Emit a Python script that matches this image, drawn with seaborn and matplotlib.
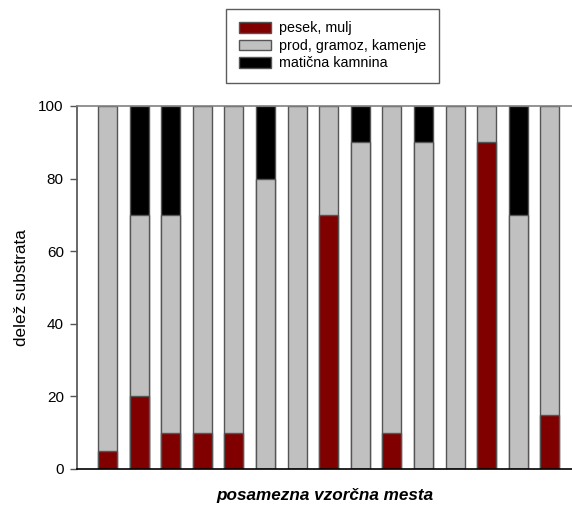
import matplotlib
matplotlib.use("Agg")
import matplotlib.pyplot as plt
import seaborn as sns
import numpy as np
import pandas as pd

sns.set_theme(style="white")
plt.rcParams["font.family"] = ["Liberation Sans", "DejaVu Sans"]
plt.rcParams["text.color"] = "black"
plt.rcParams["axes.labelcolor"] = "black"
plt.rcParams["ytick.color"] = "black"
plt.rcParams["xtick.color"] = "black"

# Substrate composition per sampling site (%)
sites = list(range(1, 16))
pesek_mulj = [5, 20, 10, 10, 10, 0, 0, 70, 0, 10, 0, 0, 90, 0, 15]
prod_gramoz = [95, 50, 60, 90, 90, 80, 100, 30, 90, 90, 90, 100, 10, 70, 85]
maticna = [0, 30, 30, 0, 0, 20, 0, 0, 10, 0, 10, 0, 0, 30, 0]

series_names = ["pesek, mulj", "prod, gramoz, kamenje", "matična kamnina"]
colors = ["#800000", "#C0C0C0", "#000000"]

df = pd.DataFrame({
    "site": [str(s) for s in sites],
    series_names[0]: pesek_mulj,
    series_names[1]: prod_gramoz,
    series_names[2]: maticna,
})

fig = plt.figure(figsize=(5.72, 5.07), dpi=100)
ax = fig.add_axes([0.1346, 0.075, 0.8654, 0.716])

# cumulative tops of each layer
cum = np.zeros(len(df))
cums = []
for name in series_names:
    cum = cum + df[name].to_numpy(dtype=float)
    cums.append(cum.copy())

# Stacked bars drawn from the top layer down so each lower layer covers the one above
for name, col, top in reversed(list(zip(series_names, colors, cums))):
    mask = df[name].to_numpy() > 0
    sns.barplot(x=df["site"], y=np.where(mask, top, 0), color=col, ax=ax,
                width=0.6, edgecolor="#555555", linewidth=1.0, saturation=1,
                label=name, order=df["site"].tolist())

ax.set_xlim(-0.965, 14.7)
ax.set_ylim(0, 100)
ax.set_yticks([0, 20, 40, 60, 80, 100])
ax.set_xticks([])
ax.tick_params(axis="y", which="both", left=True, length=5, width=1,
               color="#555555", labelsize=11, pad=4.5, labelcolor="black")
ax.set_ylabel("delež substrata", fontsize=12.3, labelpad=7)
ax.set_xlabel("posamezna vzorčna mesta", fontsize=12.3, fontweight="bold",
              fontstyle="italic", labelpad=14)

ax.spines["right"].set_visible(False)
ax.spines["top"].set_color("#808080")
ax.spines["top"].set_linewidth(1.2)
ax.spines["left"].set_color("#555555")
ax.spines["bottom"].set_color("#000000")
ax.spines["bottom"].set_linewidth(1.2)

handles, labels = ax.get_legend_handles_labels()
order = [labels.index(n) for n in series_names]
leg = fig.legend([handles[i] for i in order], [labels[i] for i in order],
                 loc="upper center", bbox_to_anchor=(0.582, 0.983),
                 frameon=True, fancybox=False, edgecolor="#333333",
                 fontsize=10.3, handlelength=2.25, handleheight=0.78,
                 labelspacing=0.24, borderpad=0.9, handletextpad=0.55,
                 borderaxespad=0)
leg.get_frame().set_linewidth(1.0)
if ax.get_legend() is not None:
    ax.get_legend().remove()

fig.savefig("out.png", dpi=100)
